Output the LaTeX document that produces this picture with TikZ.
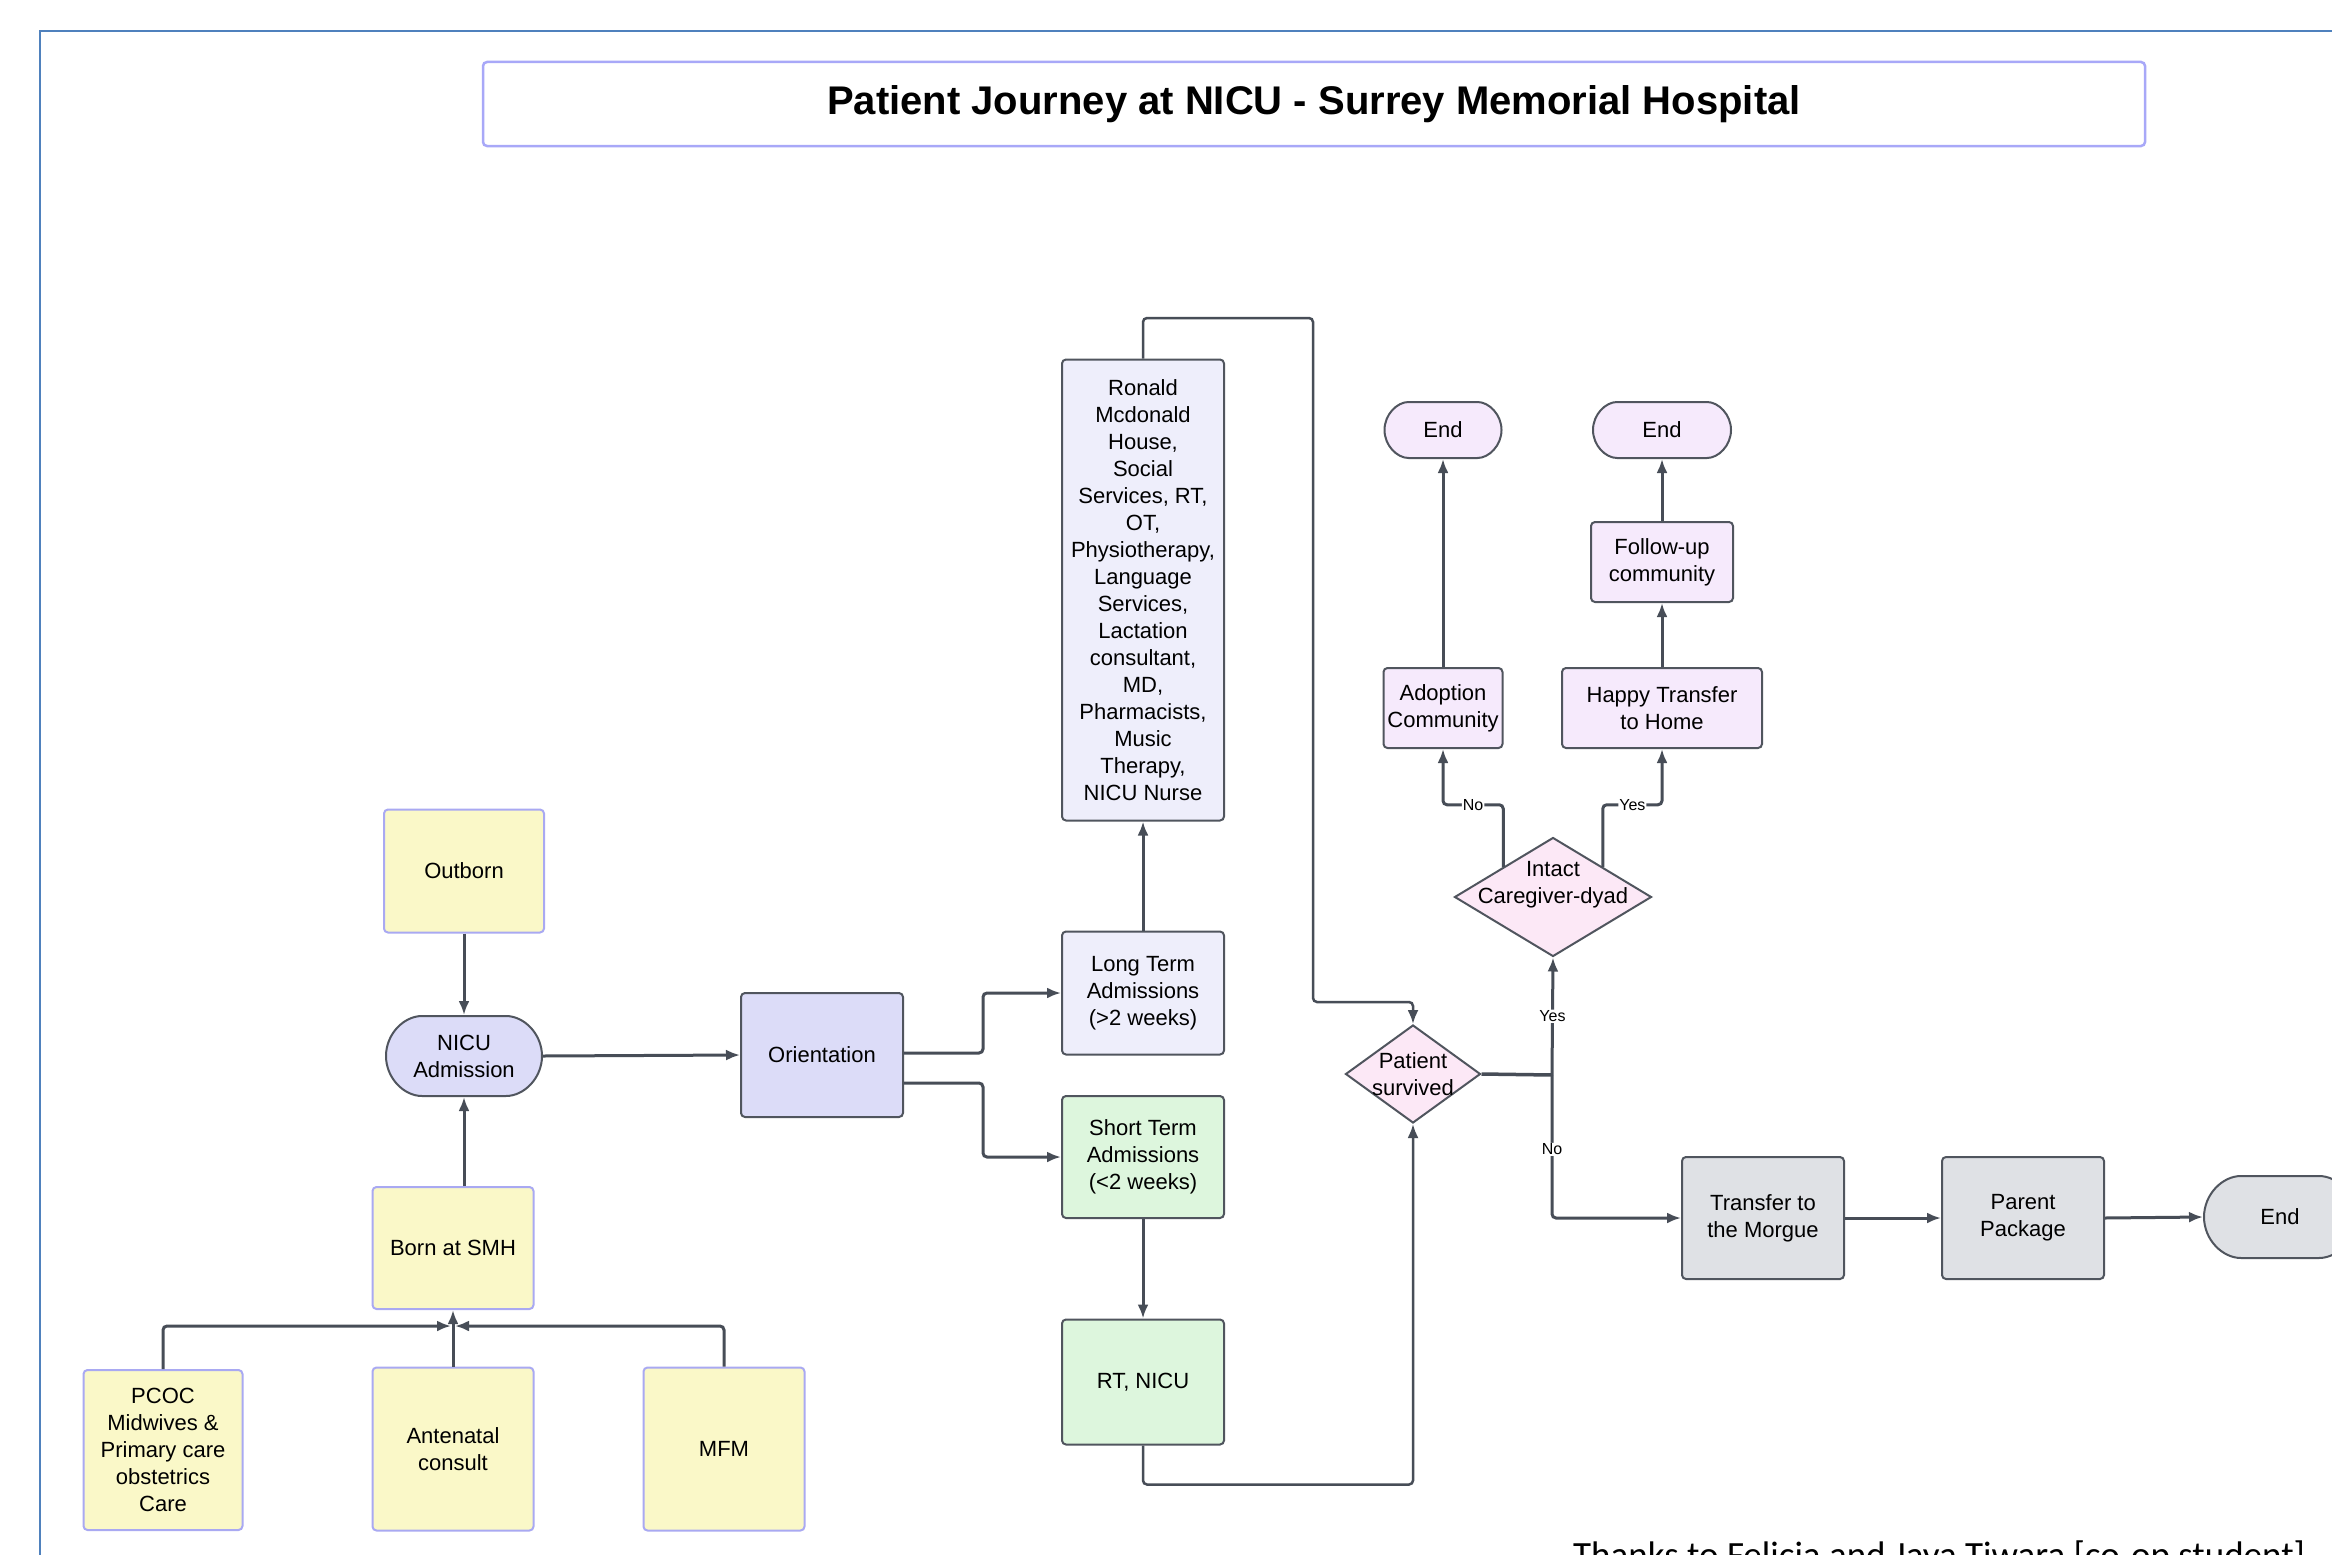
\documentclass[tikz,border=0pt]{standalone}
\usepackage{fontspec}
\setmainfont{Liberation Sans}
\newfontfamily\carlitofont{Carlito}
\usetikzlibrary{arrows.meta,shapes.geometric,shapes.misc,calc}
\definecolor{frameblue}{HTML}{4F81BD}
\definecolor{titleline}{HTML}{A8A8F8}
\definecolor{yelfill}{HTML}{FAF8C8}
\definecolor{yelline}{HTML}{A9A9F2}
\definecolor{lavfill}{HTML}{DCDCF8}
\definecolor{palelav}{HTML}{EEEEFB}
\definecolor{greenfill}{HTML}{DDF6DD}
\definecolor{pinkfill}{HTML}{FCE8F6}
\definecolor{violfill}{HTML}{F6EAFC}
\definecolor{grayfill}{HTML}{DFE1E5}
\definecolor{edgegray}{HTML}{50555E}
\definecolor{conn}{HTML}{474D57}
\tikzset{
  box/.style={rectangle, rounded corners=4pt, draw=edgegray, line width=2pt, inner sep=2pt,
    align=center, font=\fontsize{22}{27}\selectfont},
  ybox/.style={box, fill=yelfill, draw=yelline},
  stadium/.style={box, rounded rectangle, rounded rectangle arc length=180},
  dia/.style={diamond, draw=edgegray, line width=2pt, fill=pinkfill, inner sep=0pt},
  arr/.style={draw=conn, line width=3pt, rounded corners=4pt, -{Latex[length=14pt,width=11pt]}},
  ln/.style={draw=conn, line width=3pt, rounded corners=4pt},
  lbl/.style={fill=white, inner sep=1pt, font=\fontsize{16}{18}\selectfont}
}
\begin{document}
\begin{tikzpicture}[x=1pt,y=-1pt]
\clip (0,0) rectangle (2332,1555);
\fill[white] (0,0) rectangle (2332,1555);
% frame
\draw[frameblue, line width=2.5pt] (40,1600) -- (40,31) -- (2400,31);
% title
\node[draw=titleline, line width=2.5pt, rounded corners=4pt, minimum width=1662pt, minimum height=84pt,
  font=\fontsize{40}{46}\selectfont\bfseries] (title) at (1314,104) {Patient Journey at NICU - Surrey Memorial Hospital};

% left column
\node[ybox, minimum width=160pt, minimum height=123pt] (outborn) at (464,871) {Outborn};
\node[stadium, fill=lavfill, minimum width=160pt, minimum height=80pt] (nicu) at (464,1056) {NICU\\Admission};
\node[ybox, minimum width=161pt, minimum height=122pt] (born) at (453,1248) {Born at SMH};
\node[ybox, minimum width=159pt, minimum height=160pt] (pcoc) at (163,1450) {PCOC\\Midwives \&\\Primary care\\obstetrics\\Care};
\node[ybox, minimum width=161pt, minimum height=163pt] (ante) at (453,1449) {Antenatal\\consult};
\node[ybox, minimum width=161pt, minimum height=163pt] (mfm) at (724,1449) {MFM};
\node[box, fill=lavfill, minimum width=162pt, minimum height=124pt] (orient) at (822,1055) {Orientation};

% middle column
\node[box, fill=palelav, minimum width=162pt, minimum height=123pt] (longt) at (1143,993) {Long Term\\Admissions\\(>2 weeks)};
\node[box, fill=greenfill, minimum width=162pt, minimum height=122pt] (shortt) at (1143,1157) {Short Term\\Admissions\\(<2 weeks)};
\node[box, fill=greenfill, minimum width=162pt, minimum height=125pt] (rtnicu) at (1143,1382) {RT, NICU};
\node[box, fill=palelav, minimum width=162pt, minimum height=461pt] (ronald) at (1143,590)
  {Ronald\\Mcdonald\\House,\\Social\\Services, RT,\\OT,\\Physiotherapy,\\Language\\Services,\\Lactation\\consultant,\\MD,\\Pharmacists,\\Music\\Therapy,\\NICU Nurse};

% decisions
\node[dia, minimum width=135pt, minimum height=98pt,
  label={[align=center, font=\fontsize{22}{27}\selectfont]center:Patient\\survived}] (surv) at (1413,1074) {};
\node[dia, minimum width=197pt, minimum height=119pt,
  label={[align=center, font=\fontsize{22}{27}\selectfont, yshift=12pt]center:Intact\\Caregiver-dyad}] (intact) at (1553,897) {};

% right upper
\node[box, fill=violfill, minimum width=119pt, minimum height=80pt] (adopt) at (1443,708) {Adoption\\Community};
\node[box, fill=violfill, minimum width=200pt, minimum height=80pt] (happy) at (1662,708) {Happy Transfer\\to Home};
\node[box, fill=violfill, minimum width=142pt, minimum height=80pt] (follow) at (1662,562) {Follow-up\\community};
\node[stadium, fill=violfill, minimum width=121pt, minimum height=56pt] (endA) at (1443,430) {End};
\node[stadium, fill=violfill, minimum width=142pt, minimum height=56pt] (endB) at (1662,430) {End};

% right lower
\node[box, fill=grayfill, minimum width=162pt, minimum height=122pt] (morgue) at (1763,1218) {Transfer to\\the Morgue};
\node[box, fill=grayfill, minimum width=162pt, minimum height=122pt] (parent) at (2023,1218) {Parent\\Package};
\node[stadium, fill=grayfill, minimum width=156pt, minimum height=82pt] (endC) at (2280,1217) {End};

% footer
\node[anchor=base west, inner sep=0pt, font=\carlitofont\fontsize{37}{44}\selectfont] (thanks) at (1573,1567)
  {Thanks to Felicia and Jaya Tiwara [co-op student]};

% connectors
\coordinate (join) at (453,1326);
\coordinate (jn) at (1552,1075);
\draw[arr] (outborn.south) -- (nicu.north);
\draw[arr] (nicu.south |- born.north) -- (nicu.south);
\draw[arr] (ante.north) -- (born.south);
\draw[arr] (pcoc.north) |- ([xshift=-2pt]join);
\draw[arr] (mfm.north) |- ([xshift=2pt]join);
\draw[arr] (nicu.east) -- (orient.west);
\draw[arr] ($(orient.east)+(0,-2)$) -- ++(79,0) |- (longt.west);
\draw[arr] ($(orient.east)+(0,28)$) -- ++(79,0) |- (shortt.west);
\draw[arr] (longt.north) -- (ronald.south);
\draw[arr] (shortt.south) -- (rtnicu.north);
\draw[arr, line width=2.5pt] (ronald.north) |- (1313,318) -- (1313,1002) -| (surv.north);
\draw[arr, line width=2.5pt] (rtnicu.south) -- ++(0,39) -| (surv.south);
\draw[ln, line width=3.5pt] (surv.east) -- (jn);
\draw[arr] (jn) -- node[lbl]{Yes} (intact.south);
\draw[arr] (jn) |- node[lbl, pos=0.26]{No} (morgue.west);
\draw[arr] (intact.north west) -- ++(0,-62) -| node[lbl, pos=0.25]{No} (adopt.south);
\draw[arr] (intact.north east) -- ++(0,-62) -| node[lbl, pos=0.25]{Yes} (happy.south);
\draw[arr] (adopt.north) -- (endA.south);
\draw[arr] (happy.north) -- (follow.south);
\draw[arr] (follow.north) -- (endB.south);
\draw[arr] (morgue.east) -- (parent.west);
\draw[arr] (parent.east) -- (endC.west);
\end{tikzpicture}
\end{document}
